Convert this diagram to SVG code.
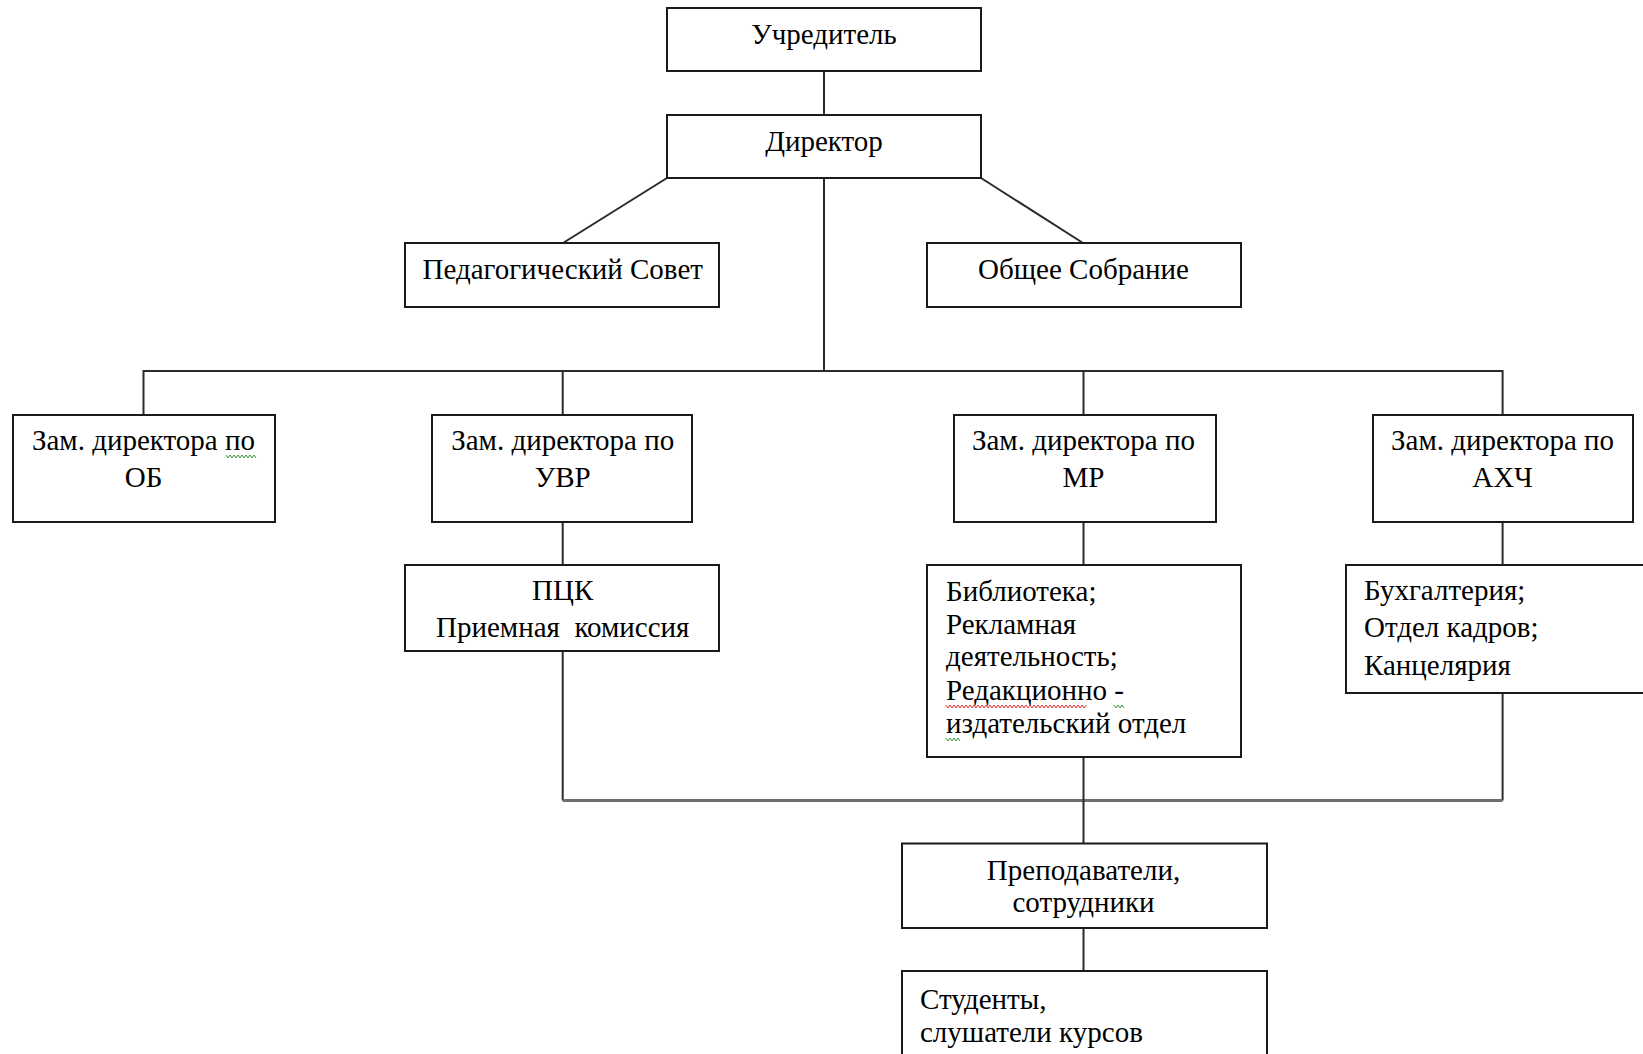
<svg xmlns="http://www.w3.org/2000/svg" width="1643" height="1054" viewBox="0 0 1643 1054">
<style>
.box{fill:#fff;stroke:#1a1a1a;stroke-width:2}
.ln{fill:none;stroke:#2a2a2a;stroke-width:2}
.t{font-family:"Liberation Serif","Times New Roman",serif;font-size:29px;fill:#000}
.c{text-anchor:middle}
.sq{fill:none;stroke-width:1}
</style>
<rect width="1643" height="1054" fill="#fff"/>
<g id="connectors">
<path class="ln" d="M824 71V115"/>
<path class="ln" d="M824 178V371"/>
<path class="ln" d="M667 178L563 243"/>
<path class="ln" d="M981 178L1083 243"/>
<path class="ln" d="M143.5 415V371H1502.6V415"/>
<path class="ln" d="M562.7 371V415"/>
<path class="ln" d="M1083.5 371V415"/>
<path class="ln" d="M562.7 522V565"/>
<path class="ln" d="M1083.5 522V565"/>
<path class="ln" d="M1502.6 522V565"/>
<path class="ln" d="M562.7 651V800.5"/>
<path class="ln" d="M1502.6 693V800.5"/>
<path d="M562.7 800.5H1502.6" fill="none" stroke="#6e6e6e" stroke-width="3"/>
<path class="ln" d="M1083.5 757V843.5"/>
<path class="ln" d="M1083.5 928V971"/>
</g>
<g id="uchreditel"><rect class="box" x="667" y="8" width="314" height="63"/><text class="t c" x="824" y="44">Учредитель</text></g>
<g id="direktor"><rect class="box" x="667" y="115" width="314" height="63"/><text class="t c" x="824" y="151">Директор</text></g>
<g id="pedsovet"><rect class="box" x="405" y="243" width="314" height="64"/><text class="t c" x="562.7" y="279">Педагогический Совет</text></g>
<g id="sobranie"><rect class="box" x="927" y="243" width="314" height="64"/><text class="t c" x="1083.5" y="279">Общее Собрание</text></g>
<g id="zam-ob"><rect class="box" x="13" y="415" width="262" height="107"/><text class="t c" x="143.5" y="450"><tspan x="143.5">Зам. директора по</tspan><tspan x="143.5" y="487">ОБ</tspan></text>
<path class="sq" stroke="#3a9a3a" d="M226 455l2 3 2-3 2 3 2-3 2 3 2-3 2 3 2-3 2 3 2-3 2 3 2-3 2 3 2-3 2 3"/></g>
<g id="zam-uvr"><rect class="box" x="432" y="415" width="260" height="107"/><text class="t c" x="562.7" y="450"><tspan x="562.7">Зам. директора по</tspan><tspan x="562.7" y="487">УВР</tspan></text></g>
<g id="zam-mr"><rect class="box" x="954" y="415" width="262" height="107"/><text class="t c" x="1083.5" y="450"><tspan x="1083.5">Зам. директора по</tspan><tspan x="1083.5" y="487">МР</tspan></text></g>
<g id="zam-ahch"><rect class="box" x="1373" y="415" width="260" height="107"/><text class="t c" x="1502.6" y="450"><tspan x="1502.6">Зам. директора по</tspan><tspan x="1502.6" y="487">АХЧ</tspan></text></g>
<g id="pck"><rect class="box" x="405" y="565" width="314" height="86"/><text class="t c" x="562.7" y="600"><tspan x="562.7">ПЦК</tspan><tspan x="562.7" y="637" xml:space="preserve">Приемная  комиссия</tspan></text></g>
<g id="biblioteka"><rect class="box" x="927" y="565" width="314" height="192"/><text class="t" x="946" y="601"><tspan x="946">Библиотека;</tspan><tspan x="946" y="634">Рекламная</tspan><tspan x="946" y="666">деятельность;</tspan><tspan x="946" y="700">Редакционно -</tspan><tspan x="946" y="733">издательский отдел</tspan></text>
<path class="sq" stroke="#e03030" d="M946 705l2 3 2-3 2 3 2-3 2 3 2-3 2 3 2-3 2 3 2-3 2 3 2-3 2 3 2-3 2 3 2-3 2 3 2-3 2 3 2-3 2 3 2-3 2 3 2-3 2 3 2-3 2 3 2-3 2 3 2-3 2 3 2-3 2 3 2-3 2 3 2-3 2 3 2-3 2 3 2-3 2 3 2-3 2 3 2-3 2 3 2-3 2 3 2-3 2 3 2-3 2 3 2-3 2 3 2-3 2 3 2-3 2 3 2-3 2 3 2-3 2 3 2-3 2 3 2-3 2 3 2-3 2 3 2-3 2 3 2-3"/>
<path class="sq" stroke="#3a9a3a" d="M1114 705l2 3 2-3 2 3 2-3 2 3"/>
<path class="sq" stroke="#3a9a3a" d="M946 738l2 3 2-3 2 3 2-3 2 3 2-3 2 3"/></g>
<g id="buhgalteriya"><rect class="box" x="1346" y="565" width="300" height="128"/><text class="t" x="1364" y="600"><tspan x="1364">Бухгалтерия;</tspan><tspan x="1364" y="637">Отдел кадров;</tspan><tspan x="1364" y="675">Канцелярия</tspan></text></g>
<g id="prepodavateli"><rect class="box" x="902" y="843.5" width="365" height="84.5"/><text class="t c" x="1083.5" y="880"><tspan x="1083.5">Преподаватели,</tspan><tspan x="1083.5" y="911.5">сотрудники</tspan></text></g>
<g id="studenty"><rect class="box" x="902" y="971" width="365" height="100"/><text class="t" x="920" y="1009"><tspan x="920">Студенты,</tspan><tspan x="920" y="1041.5">слушатели курсов</tspan></text></g>
</svg>
